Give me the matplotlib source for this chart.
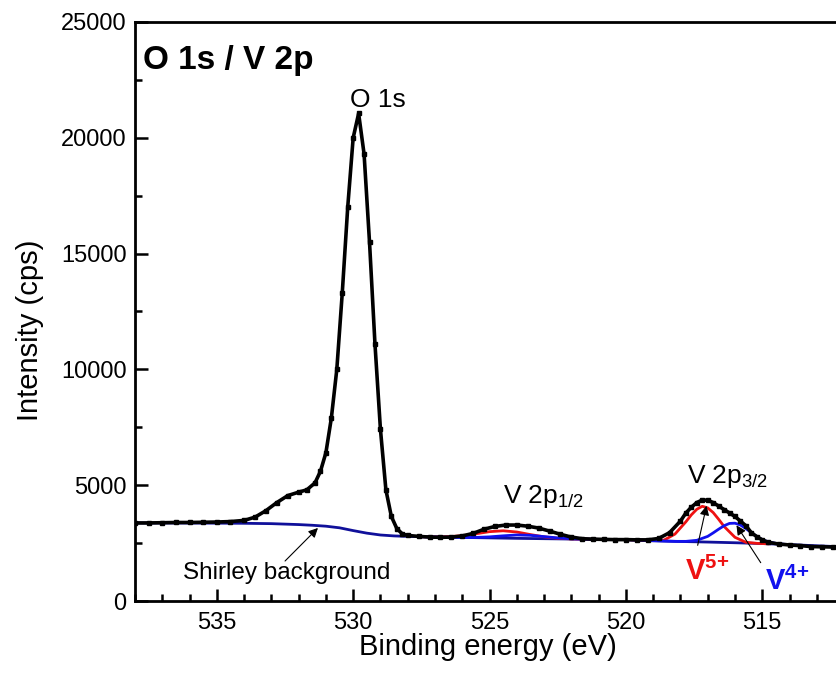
import matplotlib
matplotlib.use("Agg")
import matplotlib.pyplot as plt
from matplotlib.ticker import MultipleLocator, FixedLocator

plt.rcParams['font.family'] = ['Liberation Sans', 'DejaVu Sans']
plt.rcParams['mathtext.fontset'] = 'custom'
plt.rcParams['mathtext.rm'] = 'Liberation Sans'
plt.rcParams['mathtext.it'] = 'Liberation Sans:italic'
plt.rcParams['mathtext.bf'] = 'Liberation Sans:bold'

# measured spectrum (binding energy in eV, counts per second)
energy = [538.0, 537.5, 537.0, 536.5, 536.0, 535.5, 535.0, 534.5, 534.0, 533.6,
          533.2, 532.8, 532.4, 532.0, 531.7, 531.4, 531.2, 531.0, 530.8, 530.6,
          530.4, 530.2, 530.0, 529.8, 529.6, 529.4, 529.2, 529.0, 528.8, 528.6,
          528.4, 528.2, 528.0, 527.6, 527.2, 526.8, 526.4, 526.0, 525.6, 525.2,
          524.8, 524.4, 524.0, 523.6, 523.2, 522.8, 522.4, 522.0, 521.6, 521.2,
          520.8, 520.4, 520.0, 519.6, 519.2, 518.8, 518.4, 518.0, 517.8, 517.6,
          517.4, 517.2, 517.0, 516.8, 516.6, 516.4, 516.2, 516.0, 515.8, 515.6,
          515.4, 515.2, 515.0, 514.8, 514.4, 514.0, 513.6, 513.2, 512.8, 512.4,
          512.0, 511.6, 511.2]
intensity = [3370, 3370, 3380, 3390, 3390, 3400, 3410, 3430, 3480, 3620,
             3900, 4250, 4550, 4700, 4800, 5100, 5600, 6400, 7900, 10000,
             13300, 17000, 20000, 21050, 19300, 15480, 11080, 7410, 4800, 3650,
             3130, 2900, 2830, 2790, 2760, 2750, 2760, 2810, 2920, 3100,
             3220, 3280, 3280, 3230, 3150, 3020, 2880, 2760, 2690, 2670,
             2660, 2650, 2650, 2640, 2640, 2700, 2950, 3450, 3800, 4050,
             4250, 4360, 4350, 4250, 4100, 3950, 3800, 3650, 3450, 3250,
             2950, 2780, 2640, 2540, 2460, 2420, 2390, 2350, 2340, 2330,
             2330, 2320, 2320]

# Shirley background
bg_energy = [538.0, 536.0, 534.0, 533.0, 532.0, 531.5, 531.0, 530.5, 530.0, 529.5,
             529.0, 528.5, 528.0, 527.0, 526.0, 525.0, 524.0, 523.0, 522.0, 521.0,
             520.0, 519.0, 518.0, 517.0, 516.0, 515.0, 514.0, 513.0, 512.0, 511.2]
bg_intensity = [3370, 3365, 3355, 3340, 3300, 3270, 3230, 3160, 3040, 2930,
                2850, 2810, 2790, 2765, 2745, 2725, 2705, 2690, 2675, 2660,
                2650, 2600, 2570, 2545, 2515, 2480, 2435, 2385, 2335, 2320]

# V5+ component (2p1/2 and 2p3/2)
v5_energy = [527.5, 527.0, 526.5, 526.0, 525.5, 525.0, 524.5, 524.0, 523.5, 523.0,
             522.5, 522.0, 521.0, 520.0, 519.5, 519.0, 518.6, 518.2, 517.8, 517.6,
             517.4, 517.2, 517.0, 516.8, 516.6, 516.4, 516.0, 515.6, 515.2, 514.8]
v5_intensity = [2775, 2767, 2777, 2820, 2903, 2994, 3032, 2979, 2868, 2770,
                2710, 2682, 2660, 2650, 2625, 2605, 2630, 2890, 3420, 3720,
                3960, 4090, 4020, 3820, 3530, 3220, 2750, 2535, 2490, 2470]

# V4+ component (2p1/2 and 2p3/2)
v4_energy = [527.5, 527.0, 526.0, 525.5, 525.0, 524.5, 524.0, 523.5, 523.0, 522.5,
             522.0, 521.5, 521.0, 520.0, 519.0, 518.2, 517.8, 517.4, 517.0, 516.8,
             516.6, 516.4, 516.2, 516.0, 515.8, 515.6, 515.4, 515.2, 515.0, 514.8,
             514.4, 514.0]
v4_intensity = [2775, 2762, 2743, 2746, 2769, 2814, 2851, 2835, 2781, 2723,
                2687, 2670, 2660, 2650, 2605, 2575, 2575, 2620, 2790, 2940,
                3100, 3250, 3350, 3360, 3280, 3130, 2950, 2780, 2650, 2560,
                2465, 2435]

x_ticks = [535, 530, 525, 520, 515]

fig = plt.figure(figsize=(8.36, 6.75), dpi=100)
ax = fig.add_axes([135 / 836, 74 / 675, 763.6 / 836, 579 / 675])

ax.plot(bg_energy, bg_intensity, color='#10109a', lw=2, zorder=2)
ax.plot(v5_energy, v5_intensity, color='#ee1111', lw=2, zorder=3)
ax.plot(v4_energy, v4_intensity, color='#1111ee', lw=2, zorder=3)
ax.plot(energy, intensity, color='black', lw=2.6, marker='s', ms=2.5, zorder=4)

ax.set_xlim(538, 510)
ax.set_ylim(0, 25000)
ax.xaxis.set_major_locator(FixedLocator(x_ticks))
ax.xaxis.set_minor_locator(MultipleLocator(1))
ax.yaxis.set_major_locator(MultipleLocator(5000))
ax.yaxis.set_minor_locator(MultipleLocator(2500))
ax.tick_params(which='both', direction='in', width=1.8, labelsize=17)
ax.tick_params(which='major', length=9)
ax.tick_params(which='minor', length=5)
ax.tick_params(axis='x', pad=8)
ax.tick_params(axis='y', pad=6)
for s in ax.spines.values():
    s.set_linewidth(2)

ax.set_xlabel('Binding energy (eV)', fontsize=21)
ax.xaxis.set_label_coords(0.462, -0.0795)
ax.xaxis.label.set_va('center')
ax.set_ylabel('Intensity (cps)', fontsize=21)
ax.yaxis.set_label_coords(-0.119, 0.468)

fig.text(143 / 836, 1 - 61 / 675, 'O 1s / V 2p', fontsize=24, fontweight='bold',
         va='center', ha='left')

ax.text(529.09, 21633, 'O 1s', fontsize=19, ha='center', va='center')
ax.text(524.5, 4232, r'V 2p$_{1/2}$', fontsize=19, ha='left', va='baseline')
ax.text(517.76, 5095, r'V 2p$_{3/2}$', fontsize=19, ha='left', va='baseline')
ax.text(536.24, 1209, 'Shirley background', fontsize=17.5, ha='left', va='center')

arrow = dict(arrowstyle='-|>', color='black', lw=0.8, mutation_scale=14)
ax.annotate('', xy=(531.22, 3238), xytext=(532.57, 1641), arrowprops=arrow)
ax.annotate('', xy=(517.02, 4232), xytext=(517.39, 2288), arrowprops=arrow)
ax.annotate('', xy=(516.0, 3368), xytext=(515.0, 1554), arrowprops=arrow)

ax.text(517.83, 907, r'$\mathbf{V^{5{+}}}$', color='#ee1111', fontsize=21,
        ha='left', va='baseline')
ax.text(514.9, 475, r'$\mathbf{V^{4{+}}}$', color='#1111ee', fontsize=21,
        ha='left', va='baseline')

fig.savefig('out.png', dpi=100)
